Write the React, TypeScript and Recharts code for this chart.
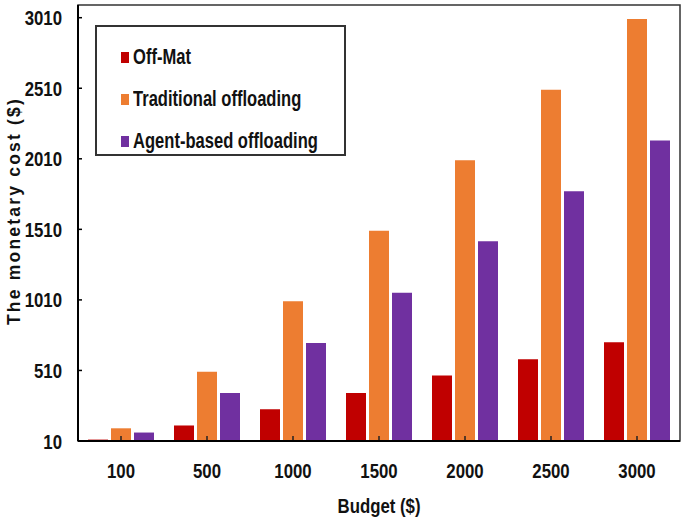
import React from 'react';
import {
  BarChart,
  Bar,
  XAxis,
  YAxis,
  Legend,
  ReferenceArea,
  ReferenceLine,
  Label,
} from 'recharts';

/** Presupuestos (eje X) */
const BUDGETS = ['100', '500', '1000', '1500', '2000', '2500', '3000'];

/** Costos */
const OFF_MAT = [20, 120, 235, 350, 475, 590, 710];
const TRADITIONAL = [100, 500, 1000, 1500, 2000, 2500, 3000];
const AGENT_BASED = [70, 350, 705, 1060, 1425, 1780, 2140];

const Y_TICKS = [10, 510, 1010, 1510, 2010, 2510, 3010];

const SERIES = [
  { key: 'offMat', name: 'Off-Mat', color: '#C00000' },
  { key: 'traditional', name: 'Traditional offloading', color: '#ED7D31' },
  { key: 'agent', name: 'Agent-based offloading', color: '#7030A0' },
];

const data = BUDGETS.map((b, i) => ({
  budget: b,
  offMat: OFF_MAT[i],
  traditional: TRADITIONAL[i],
  agent: AGENT_BASED[i],
}));

const FONT = "'Liberation Sans', Arial, sans-serif";
/** No hay Arial Narrow: se comprime la Liberation Sans */
const SQUEEZE = 0.8;

const XTick = (props: any) => {
  const { x, y, payload } = props;
  return (
    <g transform={`translate(${x},${y}) scale(${SQUEEZE},1)`}>
      <text
        textAnchor="middle"
        dy="0.71em"
        fontFamily={FONT}
        fontWeight={700}
        fontSize={21}
        fill="#111"
      >
        {payload.value}
      </text>
    </g>
  );
};

const YTick = (props: any) => {
  const { x, y, payload } = props;
  return (
    <g transform={`translate(${x},${y}) scale(${SQUEEZE},1)`}>
      <text
        textAnchor="end"
        dy="0.36em"
        fontFamily={FONT}
        fontWeight={700}
        fontSize={21}
        fill="#111"
      >
        {payload.value}
      </text>
    </g>
  );
};

/** Leyenda con recuadro */
const LegendBox = () => (
  <div
    style={{
      boxSizing: 'border-box',
      width: 251,
      height: 131,
      border: '2px solid #333',
      background: '#fff',
      fontFamily: FONT,
      fontWeight: 700,
      fontSize: 21.5,
      color: '#111',
      paddingTop: 9,
    }}
  >
    {SERIES.map((s) => (
      <div
        key={s.key}
        style={{
          display: 'flex',
          alignItems: 'center',
          height: 42,
          paddingLeft: 24,
          whiteSpace: 'nowrap',
        }}
      >
        <span
          style={{
            width: 8,
            height: 11,
            background: s.color,
            display: 'inline-block',
            marginRight: 4,
            flex: 'none',
          }}
        />
        <span
          style={{
            display: 'inline-block',
            transform: 'scaleX(0.77)',
            transformOrigin: 'left center',
          }}
        >
          {s.name}
        </span>
      </div>
    ))}
  </div>
);

const App: React.FC = () => {
  return (
    <div style={{ position: 'fixed', left: 0, top: 0, background: '#fff' }}>
      <BarChart
        width={685}
        height={523}
        data={data}
        margin={{ top: 5, right: 5, bottom: 0, left: 0 }}
        barSize={20}
        barGap={3}
      >
        <XAxis
          dataKey="budget"
          height={82}
          axisLine={{ stroke: '#000', strokeWidth: 2 }}
          tickLine={false}
          tickSize={-5}
          tickMargin={27}
          tick={<XTick />}
        >
          <Label
            content={(p: any) => {
              const vb = p.viewBox;
              return (
                <g
                  transform={`translate(${vb.x + vb.width / 2},${vb.y + vb.height - 10}) scale(${SQUEEZE},1)`}
                >
                  <text
                    textAnchor="middle"
                    fontFamily={FONT}
                    fontWeight={700}
                    fontSize={21}
                    fill="#111"
                  >
                    Budget ($)
                  </text>
                </g>
              );
            }}
          />
        </XAxis>
        <YAxis
          type="number"
          width={78}
          domain={[10, 3100]}
          ticks={Y_TICKS}
          interval={0}
          axisLine={{ stroke: '#000', strokeWidth: 2 }}
          tickLine={{ stroke: '#000', strokeWidth: 1.5 }}
          tickSize={-4}
          tickMargin={20}
          tick={<YTick />}
        >
          <Label
            content={() => (
              <text
                transform="translate(20, 211) rotate(-90)"
                textAnchor="middle"
                fontFamily={FONT}
                fontWeight={700}
                fontSize={17.5}
                letterSpacing={2.2}
                fill="#111"
              >
                The monetary cost ($)
              </text>
            )}
          />
        </YAxis>
        <ReferenceArea
          y1={10}
          y2={3100}
          fill="none"
          stroke="#333"
          strokeWidth={1.5}
          ifOverflow="visible"
        />
        {SERIES.map((s) => (
          <Bar
            key={s.key}
            dataKey={s.key}
            name={s.name}
            fill={s.color}
            isAnimationActive={false}
          />
        ))}
        {/* marcas del eje X hacia adentro, por encima de las barras */}
        {BUDGETS.map((b) => (
          <ReferenceLine
            key={`tick-${b}`}
            segment={[
              { x: b, y: 10 },
              { x: b, y: 45 },
            ]}
            stroke="#222"
            strokeWidth={1.5}
            ifOverflow="visible"
          />
        ))}
        <Legend
          layout="vertical"
          align="center"
          verticalAlign="middle"
          wrapperStyle={{ left: 95, top: 25, width: 251, height: 131 }}
          content={() => <LegendBox />}
        />
      </BarChart>
    </div>
  );
};

export default App;
